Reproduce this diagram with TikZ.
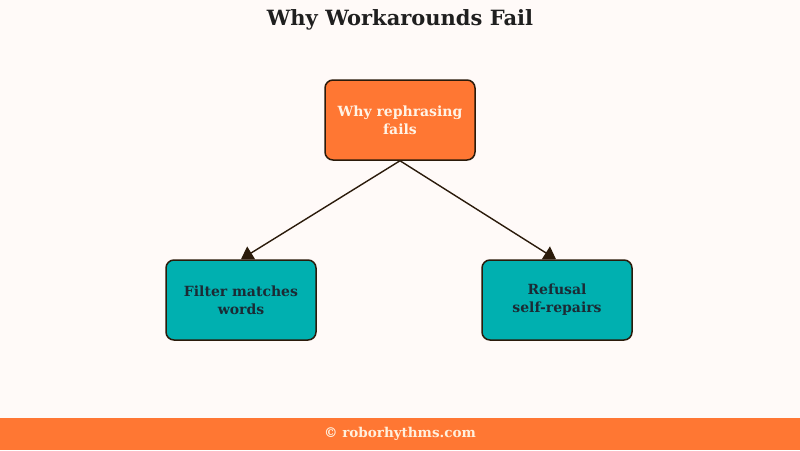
\documentclass[tikz,border=0pt]{standalone}
\usepackage{fontspec}
\setmainfont{DejaVu Serif}
\usetikzlibrary{arrows.meta,calc}
\definecolor{bgc}{HTML}{FFFAF8}
\definecolor{orangec}{HTML}{FF7733}
\definecolor{tealc}{HTML}{00B0B0}
\definecolor{edgec}{HTML}{2B1B0B}
\definecolor{toptext}{HTML}{FFF3E6}
\definecolor{bottext}{HTML}{1B2B35}
\definecolor{foottext}{HTML}{FFF0DD}
\tikzset{
  box/.style={draw=edgec, line width=1.5pt, rounded corners=8pt, minimum width=150pt, minimum height=80pt, align=center, font=\bfseries\fontsize{14}{18}\selectfont, inner sep=0pt},
  topbox/.style={box, fill=orangec, text=toptext},
  leafbox/.style={box, fill=tealc, text=bottext},
  conn/.style={draw=edgec, line width=1.4pt, -{Triangle[length=12pt,width=15pt]}}
}
\begin{document}
\begin{tikzpicture}[x=1pt,y=-1pt]
\fill[bgc] (0,0) rectangle (800,450);
\useasboundingbox (0,0) rectangle (800,450);
\fill[orangec] (0,418) rectangle (800,450);
\node[font=\bfseries\fontsize{21}{25}\selectfont, text=black!88] (title) at (400,20) {Why Workarounds Fail};
\node[topbox] (top) at (400,120) {Why rephrasing\\fails};
\node[leafbox] (left) at (241,300) {Filter matches\\words};
\node[leafbox] (right) at (557,300) {Refusal\\self-repairs};
\node[font=\bfseries\fontsize{13.5}{16}\selectfont, text=foottext] (foot) at (400,434) {© roborhythms.com};
\draw[conn] (top.south) -- ($(left.north)+(0,0)$);
\draw[conn] (top.south) -- ($(right.north)+(-1,0)$);
\end{tikzpicture}
\end{document}
